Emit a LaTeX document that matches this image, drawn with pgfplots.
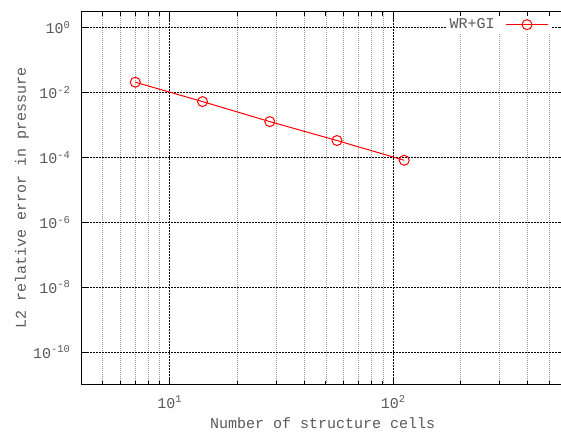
\documentclass[border=0pt]{standalone}
\usepackage{pgfplots}
\pgfplotsset{compat=1.18}
\usepackage{fontspec}
\setmainfont{Liberation Mono}

% power-of-ten tick label in the text font
\newcommand{\tp}[1]{10\textsuperscript{#1}}

\begin{document}
\fontsize{15bp}{18bp}\selectfont%
\begin{tikzpicture}
\begin{axis}[
  at={(81bp,47.5bp)}, anchor=south west,
  scale only axis, width=486bp, height=372.5bp,
  xmode=log, ymode=log,
  xmin=4, xmax=600, ymin=1e-11, ymax=3,
  xtick={10,100}, xticklabels={\tp{1},\tp{2}},
  minor xtick={4,5,6,7,8,9,20,30,40,50,60,70,80,90,200,300,400,500,600},
  ytick={1e-10,1e-8,1e-6,1e-4,1e-2,1},
  yticklabels={\tp{-10},\tp{-8},\tp{-6},\tp{-4},\tp{-2},\tp{0}},
  yminorticks=false,
  xmajorgrids, ymajorgrids, xminorgrids,
  major grid style={black, line width=0.8bp, dash pattern=on 1.5bp off 1.5bp},
  minor grid style={black!40, line width=0.8bp, dash pattern=on 1bp off 1bp},
  axis line style={black, line width=1bp},
  tick align=inside,
  major tick length=8bp, minor tick length=4bp,
  every tick/.style={black, line width=1bp},
  xticklabel style={anchor=base, yshift=-23.5bp, text=black!65},
  yticklabel style={anchor=east, xshift=-5.3bp, text=black!65},
  xlabel={Number of structure cells},
  ylabel={L2 relative error in pressure},
  xlabel style={at={(axis description cs:0.497,0)}, anchor=base, yshift=-43.5bp, text=black!65},
  ylabel style={at={(axis description cs:-0.1132,0.5)}, anchor=base, text=black!65},
  legend style={at={(0.9665,0.966)}, anchor=east, fill=white, draw=none,
    inner xsep=2bp, inner ysep=1bp, text=black!65},
  legend plot pos=right,
  legend cell align=right,
  legend image code/.code={\path (0bp,0bp);
    \draw[mark repeat=2,mark phase=2] plot coordinates {(9bp,0bp) (30bp,0bp) (51bp,0bp)};},
]
\addplot[red, line width=1bp, mark=o, mark size=5bp]
  coordinates {(7,0.0206) (14,0.00521) (28,0.00126) (56,3.29e-4) (112,8.1e-5)};
\addlegendentry{WR+GI}
\end{axis}
\pgfresetboundingbox
\useasboundingbox (0,0) rectangle (561bp,432bp);
\end{tikzpicture}
\end{document}
